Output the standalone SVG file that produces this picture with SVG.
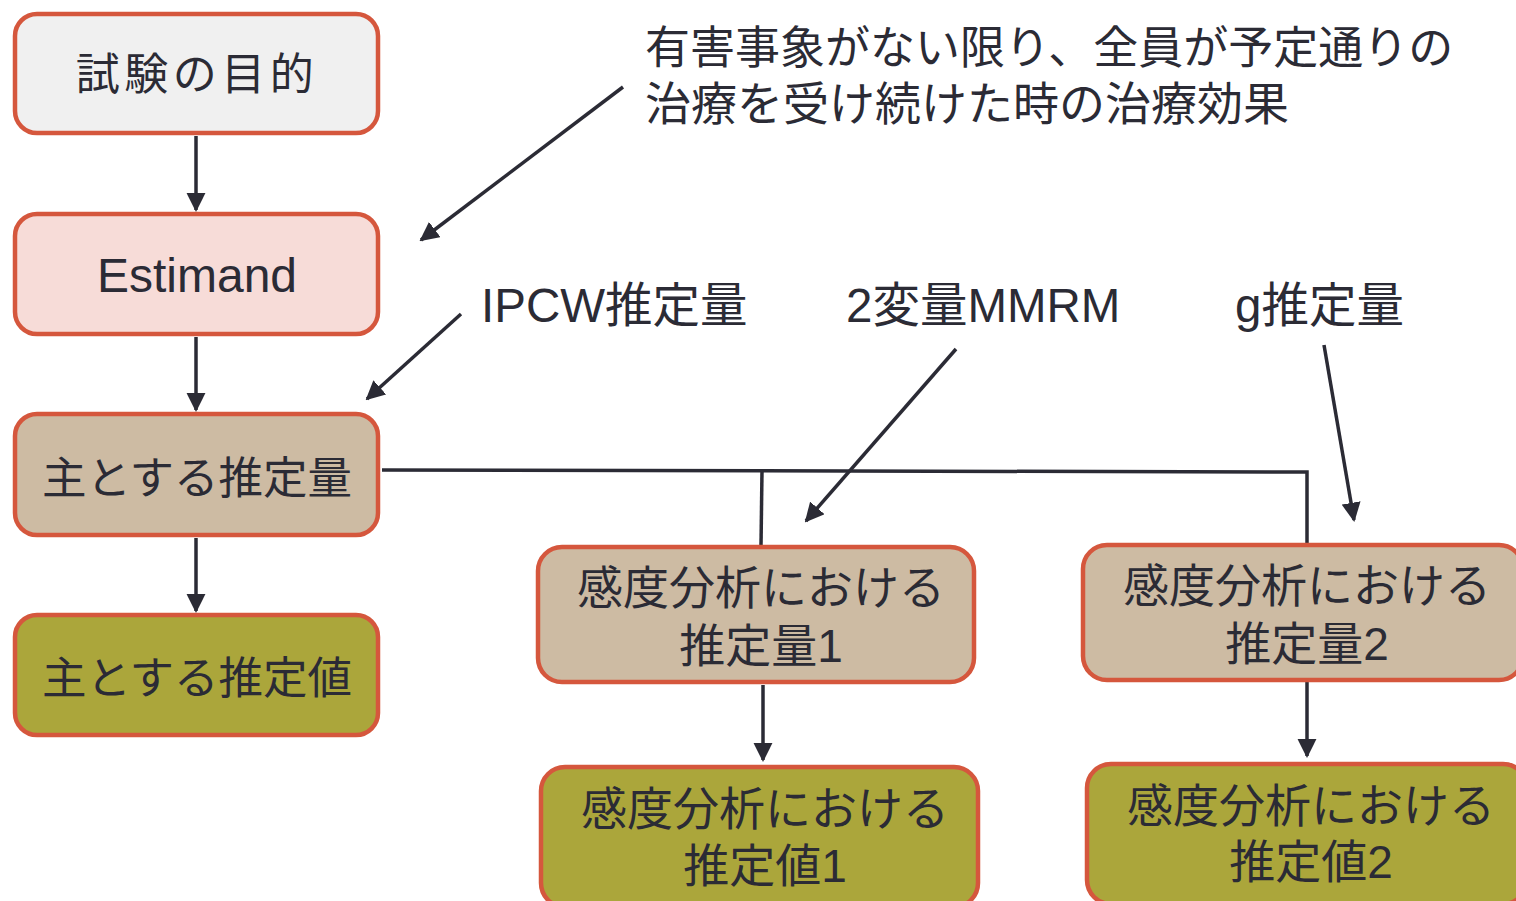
<svg xmlns="http://www.w3.org/2000/svg" width="1516" height="901" viewBox="0 0 1516 901">
<style>
.n{stroke:#d5573d;stroke-width:4.5}
.t{font-family:"Liberation Sans","Noto Sans CJK JP",sans-serif;font-size:46px;fill:#2b2b35;text-anchor:middle;dominant-baseline:central}
.l{font-family:"Liberation Sans","Noto Sans CJK JP",sans-serif;font-size:47.5px;fill:#2b2b35}
.c{stroke:#2b2b35;stroke-width:3.5;fill:none}
</style>
<defs>
<marker id="ah" viewBox="0 0 10 10" refX="9" refY="5" markerWidth="5.5" markerHeight="5.5" orient="auto" markerUnits="strokeWidth">
<path d="M0,0 L10,5 L0,10 z" fill="#2b2b35"/>
</marker>
</defs>
<g id="connectors">
<line class="c" x1="196" y1="136" x2="196" y2="210" marker-end="url(#ah)"/>
<line class="c" x1="196" y1="337" x2="196" y2="410" marker-end="url(#ah)"/>
<line class="c" x1="196" y1="538" x2="196" y2="611" marker-end="url(#ah)"/>
<polyline class="c" points="382,470 1307,472 1307,544"/>
<line class="c" x1="762" y1="471" x2="761" y2="546"/>
<line class="c" x1="763" y1="685" x2="763" y2="760" marker-end="url(#ah)"/>
<line class="c" x1="1307" y1="682" x2="1307" y2="756" marker-end="url(#ah)"/>
<line class="c" x1="623" y1="87" x2="421" y2="240" marker-end="url(#ah)"/>
<line class="c" x1="461" y1="314" x2="367" y2="399" marker-end="url(#ah)"/>
<line class="c" x1="956" y1="349" x2="806" y2="521" marker-end="url(#ah)"/>
<line class="c" x1="1324" y1="345" x2="1354" y2="520" marker-end="url(#ah)"/>
</g>
<g id="n1"><rect class="n" x="15" y="14" width="363" height="119" rx="22" fill="#f0f0f0"/><text class="t" x="197" y="74" style="font-size:44px;letter-spacing:4.5px">試験の目的</text></g>
<g id="n2"><rect class="n" x="15" y="214" width="363" height="120" rx="22" fill="#f7dcd8"/><text class="t" x="197" y="275" style="font-size:48px">Estimand</text></g>
<g id="n3"><rect class="n" x="15" y="414" width="363" height="121" rx="22" fill="#cdbba3"/><text class="t" x="197" y="478" style="font-size:44.5px">主とする推定量</text></g>
<g id="n4"><rect class="n" x="15" y="615" width="363" height="120" rx="22" fill="#aba63b"/><text class="t" x="197" y="678" style="font-size:44.5px">主とする推定値</text></g>
<g id="n5"><rect class="n" x="538" y="547" width="436" height="135" rx="24" fill="#cdbba3"/><text class="t" x="761" y="588">感度分析における</text><text class="t" x="761" y="646">推定量1</text></g>
<g id="n6"><rect class="n" x="1083" y="545" width="440" height="135" rx="24" fill="#cdbba3"/><text class="t" x="1307" y="586">感度分析における</text><text class="t" x="1307" y="644">推定量2</text></g>
<g id="n7"><rect class="n" x="541" y="767" width="437" height="140" rx="24" fill="#aba63b"/><text class="t" x="765" y="809">感度分析における</text><text class="t" x="765" y="866">推定値1</text></g>
<g id="n8"><rect class="n" x="1087" y="764" width="440" height="140" rx="24" fill="#aba63b"/><text class="t" x="1311" y="806">感度分析における</text><text class="t" x="1311" y="862">推定値2</text></g>
<g id="labels">
<text class="l" x="645" y="64" style="font-size:45px">有害事象がない限り、全員が予定通りの</text>
<text class="l" x="645" y="120" style="font-size:46px">治療を受け続けた時の治療効果</text>
<text class="l" x="481" y="322">IPCW推定量</text>
<text class="l" x="846" y="322">2変量MMRM</text>
<text class="l" x="1235" y="322">g推定量</text>
</g>
</svg>
